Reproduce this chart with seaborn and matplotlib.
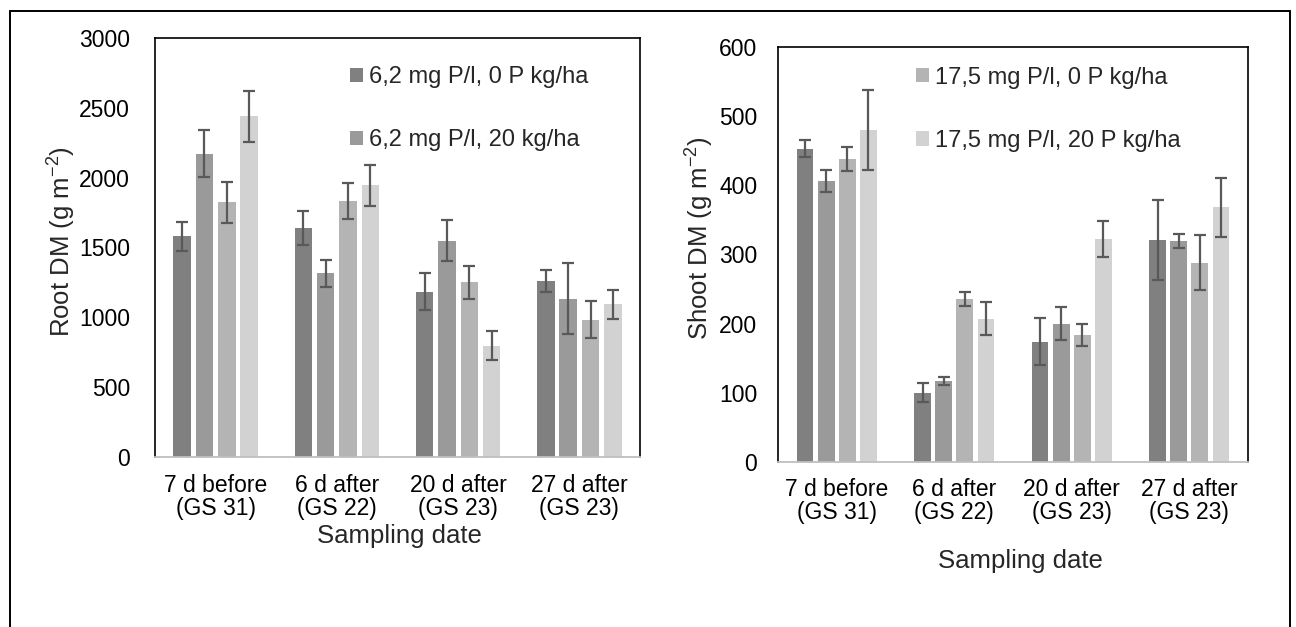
import matplotlib
matplotlib.use("Agg")
import matplotlib.pyplot as plt
import seaborn as sns
import pandas as pd
from matplotlib.patches import Patch
from matplotlib.lines import Line2D

# ---------------- data ----------------
categories = ["7 d before\n(GS 31)", "6 d after\n(GS 22)", "20 d after\n(GS 23)", "27 d after\n(GS 23)"]
series = ["6,2 mg P/l, 0 P kg/ha", "6,2 mg P/l, 20 kg/ha",
          "17,5 mg P/l, 0 P kg/ha", "17,5 mg P/l, 20 P kg/ha"]
colors = ["#808080", "#9a9a9a", "#b4b4b4", "#d2d2d2"]

root_s1 = [1581, 1637, 1184, 1261]
root_s2 = [2173, 1314, 1548, 1134]
root_s3 = [1823, 1833, 1251, 983]
root_s4 = [2438, 1945, 797, 1093]
root_e1 = [103, 121, 135, 78]
root_e2 = [170, 95, 146, 252]
root_e3 = [148, 132, 118, 133]
root_e4 = [185, 145, 102, 102]

shoot_s1 = [453, 100, 174, 321]
shoot_s2 = [406, 117, 200, 320]
shoot_s3 = [438, 236, 184, 288]
shoot_s4 = [480, 207, 323, 368]
shoot_e1 = [12, 13.5, 34, 58]
shoot_e2 = [16, 5.5, 24, 10]
shoot_e3 = [18, 10, 16, 40]
shoot_e4 = [58, 24, 26, 43]

root_ticks = [0, 500, 1000, 1500, 2000, 2500, 3000]
shoot_ticks = [0, 100, 200, 300, 400, 500, 600]


def long_df(vals, errs):
    rows = []
    for s, v, e in zip(series, vals, errs):
        for c, vv, ee in zip(categories, v, e):
            rows.append({"date": c, "series": s, "value": vv, "err": ee})
    return pd.DataFrame(rows)


root_df = long_df([root_s1, root_s2, root_s3, root_s4], [root_e1, root_e2, root_e3, root_e4])
shoot_df = long_df([shoot_s1, shoot_s2, shoot_s3, shoot_s4], [shoot_e1, shoot_e2, shoot_e3, shoot_e4])

# ---------------- style ----------------
sns.set_style("white")
plt.rcParams["font.family"] = ["Liberation Sans", "DejaVu Sans"]
plt.rcParams["mathtext.fontset"] = "custom"
plt.rcParams["mathtext.rm"] = "Liberation Sans"
plt.rcParams["mathtext.it"] = "Liberation Sans"

fig = plt.figure(figsize=(12.96, 6.27), dpi=100)
W, H = 1296, 627


def px_axes(x0, y0, x1, y1):
    return fig.add_axes([x0 / W, 1 - y1 / H, (x1 - x0) / W, (y1 - y0) / H])


axL = px_axes(155, 38, 640, 457)
axR = px_axes(778, 47, 1248, 462)


def draw(ax, df, ylim, ticks, ylabel, width, gap, legend_idx, leg_anchor, ylab_coords, xlab_coords,
         boundary_ticks, ypad):
    sns.barplot(data=df, x="date", y="value", hue="series", hue_order=series, order=categories,
                palette=colors, width=width, gap=gap, errorbar=None, legend=False,
                saturation=1, linewidth=0, ax=ax)
    for cont, s in zip(ax.containers, series):
        sub = df[df["series"] == s].set_index("date").loc[categories]
        xs = [b.get_x() + b.get_width() / 2 for b in cont]
        ys = [b.get_height() for b in cont]
        ax.errorbar(xs, ys, yerr=sub["err"].values, fmt="none", ecolor="#595959",
                    elinewidth=1.6, capsize=4.6, capthick=1.6, zorder=5)
    ax.set_ylim(*ylim)
    ax.set_yticks(ticks)
    ax.set_xlim(-0.5, 3.5)
    ax.tick_params(axis="y", length=0, pad=ypad, labelsize=16.5, labelcolor="#000000")
    ax.tick_params(axis="x", length=0, pad=12, labelsize=16.5, labelcolor="#000000")
    for lab in ax.get_xticklabels():
        lab.set_linespacing(1.0)
    for side in ["left", "top", "right"]:
        ax.spines[side].set_color("#000000")
        ax.spines[side].set_linewidth(1.2)
    ax.spines["bottom"].set_color("#bfbfbf")
    ax.spines["bottom"].set_linewidth(1.3)
    if boundary_ticks:
        ax.set_xticks([-0.5, 0.5, 1.5, 2.5, 3.5], minor=True)
        ax.tick_params(axis="x", which="minor", length=5, width=1.2, color="#bfbfbf")
        ax.tick_params(axis="x", pad=11.5)
    ax.set_ylabel(ylabel, fontsize=18.5)
    ax.set_xlabel("Sampling date", fontsize=18.5)
    ax.yaxis.set_label_coords(*ylab_coords)
    ax.xaxis.set_label_coords(*xlab_coords)
    handles = [Patch(facecolor=colors[i], edgecolor="none") for i in legend_idx]
    ax.legend(handles, [series[i] for i in legend_idx], loc="upper left", bbox_to_anchor=leg_anchor,
              frameon=False, fontsize=17, handlelength=0.55, handleheight=0.55,
              handletextpad=0.25, labelspacing=1.75, borderpad=0, borderaxespad=0)


draw(axL, root_df, (0, 3000), root_ticks, "Root DM (g m$^{-2}$)", 0.737, 0.22, [0, 1],
     (0.402, 0.933), (-0.158, 0.513), (0.505, -0.16), False, 18)
draw(axR, shoot_df, (0, 600), shoot_ticks, "Shoot DM (g m$^{-2}$)", 0.72, 0.2, [2, 3],
     (0.294, 0.953), (-0.132, 0.54), (0.515, -0.21), True, 15)

# outer frame (left, top, right)
x0, x1, yt = 10 / W, 1290 / W, 1 - 11 / H
for xs, ys in [([x0, x0], [0, yt]), ([x0, x1], [yt, yt]), ([x1, x1], [yt, 0])]:
    fig.add_artist(Line2D(xs, ys, transform=fig.transFigure, color="#000000", lw=1.4))

fig.savefig("out.png", dpi=100)
